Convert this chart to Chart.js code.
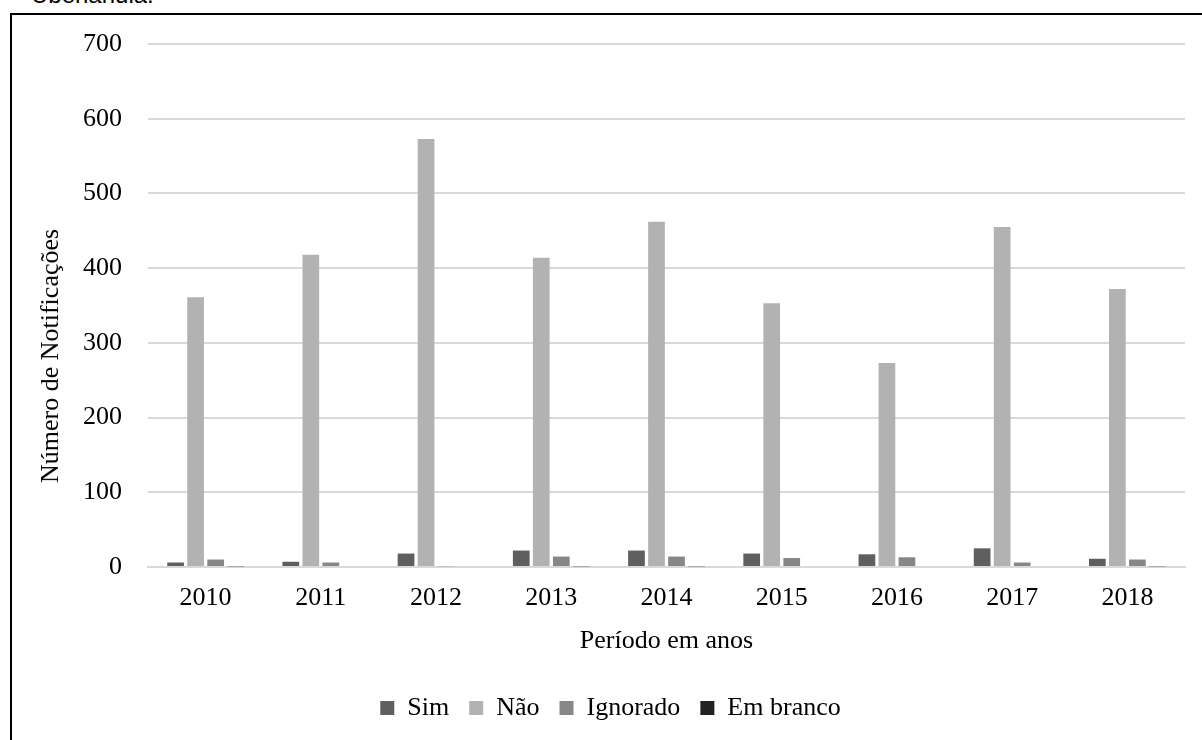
<!DOCTYPE html>
<html>
<head>
<meta charset="utf-8">
<script src="https://cdn.jsdelivr.net/npm/chart.js@4.4.1/dist/chart.umd.min.js"></script>
<style>
  html, body { margin: 0; padding: 0; background: #fff; overflow: hidden; }
  #wrap { position: relative; width: 1202px; height: 740px; overflow: hidden; }
  #frame { position: absolute; left: 10px; top: 13px; width: 1300px; height: 800px; border: 2px solid #000; box-sizing: border-box; }
  #caption { position: absolute; left: 31px; top: -17px; line-height: 24px; font-family: "Liberation Sans", Arial, sans-serif; font-size: 24px; color: #000; white-space: nowrap; }
  #ytitle { position: absolute; left: 50px; top: 356px; transform: translate(-50%, -50%) rotate(-90deg); font-family: "Liberation Serif", "Times New Roman", serif; font-size: 26px; line-height: 30px; color: #000; white-space: nowrap; }
  #c { position: absolute; left: 0; top: 0; }
</style>
</head>
<body>
<div id="wrap">
  <div id="caption">Uberlândia.</div>
  <div id="frame"></div>
  <canvas id="c" width="1202" height="740"></canvas>
  <div id="ytitle">Número de Notificações</div>
</div>
<script>
const categories = ["2010", "2011", "2012", "2013", "2014", "2015", "2016", "2017", "2018"];
const sim      = [6, 7, 18, 22, 22, 18, 17, 25, 11];
const nao      = [361, 418, 573, 414, 462, 353, 273, 455, 372];
const ignorado = [10, 6, 1, 14, 14, 12, 13, 6, 10];
const emBranco = [1, 0, 0, 1, 1, 0, 0, 0, 1];
const yTicks   = [0, 100, 200, 300, 400, 500, 600, 700];

const serif = "'Liberation Serif', 'Times New Roman', serif";

new Chart(document.getElementById('c'), {
  type: 'bar',
  data: {
    labels: categories,
    datasets: [
      { label: 'Sim', data: sim, backgroundColor: '#5f5f5f' },
      { label: 'Não', data: nao, backgroundColor: '#b2b2b2' },
      { label: 'Ignorado', data: ignorado, backgroundColor: '#878787' },
      { label: 'Em branco', data: emBranco, backgroundColor: '#222222' }
    ]
  },
  options: {
    responsive: false,
    animation: false,
    events: [],
    layout: { padding: { left: 36, right: 17, top: 44, bottom: 9 } },
    datasets: { bar: { categoryPercentage: 0.695, barPercentage: 0.835 } },
    plugins: {
      tooltip: { enabled: false },
      legend: {
        position: 'bottom',
        labels: {
          font: { family: serif, size: 26 },
          color: '#000',
          boxWidth: 14,
          boxHeight: 14,
          padding: 20
        }
      }
    },
    scales: {
      x: {
        grid: { display: false, drawTicks: false },
        border: { display: true, color: '#d9d9d9', width: 2 },
        ticks: { font: { family: serif, size: 26 }, color: '#000', padding: 16 },
        title: { display: true, text: 'Período em anos', font: { family: serif, size: 26 }, color: '#000', padding: { top: 0, bottom: 18 } },
        afterFit: (s) => { s.height = 108; }
      },
      y: {
        min: 0, max: 700,
        afterBuildTicks: (s) => { s.ticks = yTicks.map(v => ({ value: v })); },
        grid: { color: '#d9d9d9', lineWidth: 2, drawTicks: false },
        border: { display: false },
        ticks: { font: { family: serif, size: 26 }, color: '#000', padding: 26 },
        title: { display: false },
        afterFit: (s) => { s.width = 112; }
      }
    }
  }
});
</script>
</body>
</html>
